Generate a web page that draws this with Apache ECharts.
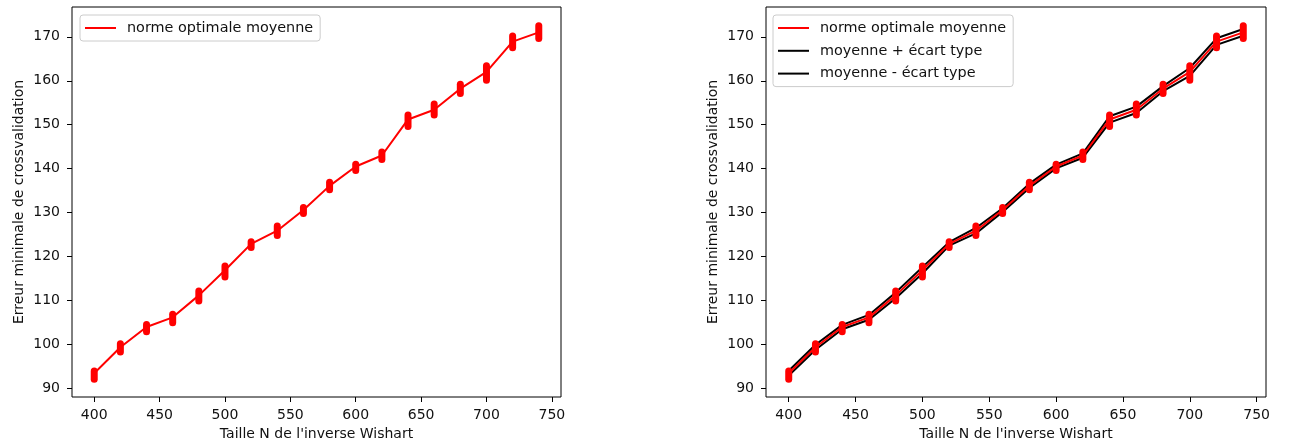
<!DOCTYPE html>
<html>
<head>
<meta charset="utf-8">
<script src="https://cdn.jsdelivr.net/npm/echarts@6/dist/echarts.min.js"></script>
<style>
    html, body { margin: 0; padding: 0; background: #fff; }
    #chart { width: 1308px; height: 446px; }
</style>
</head>
<body>
<div id="chart"></div>
<script>
    // tailles N testées
    const tailles = [400, 420, 440, 460, 480, 500, 520, 540, 560, 580, 600, 620, 640, 660, 680, 700, 720, 740];
    // norme optimale moyenne
    const moyenne = [93.5, 99.4, 104.0, 106.2, 111.2, 116.9, 122.9, 125.9, 130.6, 136.1, 140.5, 143.0, 151.2, 153.4, 158.2, 162.0, 168.9, 171.0];
    // écart type
    const ecartType = [0.55, 0.57, 0.50, 0.55, 0.67, 0.72, 0.40, 0.62, 0.42, 0.50, 0.42, 0.50, 0.72, 0.72, 0.58, 0.90, 0.75, 0.78];
    // étendue des essais (nuage de points)
    const essaisMin = [92.1, 98.3, 102.9, 105.0, 109.9, 115.4, 122.1, 124.8, 129.8, 135.2, 139.6, 142.1, 149.6, 152.2, 157.1, 160.1, 167.5, 169.6];
    const essaisMax = [94.0, 100.2, 104.6, 106.9, 112.2, 117.9, 123.4, 127.0, 131.2, 136.9, 141.0, 143.8, 152.2, 154.7, 159.2, 163.4, 170.2, 172.5];
    const ticksX = [400, 450, 500, 550, 600, 650, 700, 750];
    const ticksY = [90, 100, 110, 120, 130, 140, 150, 160, 170];

    const police = 'DejaVu Sans';
    const rouge = '#ff0000';

    let moyenneData = tailles.map((t, i) => [t, moyenne[i]]);
    let hautData = tailles.map((t, i) => [t, +(moyenne[i] + ecartType[i]).toFixed(2)]);
    let basData = tailles.map((t, i) => [t, +(moyenne[i] - ecartType[i]).toFixed(2)]);
    let nuageData = tailles.map((t, i) => [t, essaisMin[i], essaisMax[i]]);

    let xAxe = (idx) => ({
        type: 'value',
        gridIndex: idx,
        min: 383,
        max: 757,
        name: "Taille N de l'inverse Wishart",
        nameLocation: 'middle',
        nameGap: 30,
        nameTextStyle: { fontFamily: police, fontSize: 14, color: '#111' },
        axisLine: { show: false },
        axisTick: { show: true, length: 5, customValues: ticksX, lineStyle: { color: '#000', width: 1 } },
        axisLabel: { customValues: ticksX, margin: 11, fontFamily: police, fontSize: 14, color: '#111' },
        splitLine: { show: false }
    });
    let yAxe = (idx) => ({
        type: 'value',
        gridIndex: idx,
        min: 88.09,
        max: 176.77,
        name: 'Erreur minimale de crossvalidation',
        nameLocation: 'middle',
        nameGap: 46,
        nameTextStyle: { fontFamily: police, fontSize: 14, color: '#111' },
        axisLine: { show: false },
        axisTick: { show: true, length: 5, customValues: ticksY, lineStyle: { color: '#000', width: 1 } },
        axisLabel: { customValues: ticksY, margin: 12, fontFamily: police, fontSize: 14, color: '#111' },
        splitLine: { show: false }
    });

    let nuage = (idx) => ({
        type: 'custom',
        xAxisIndex: idx,
        yAxisIndex: idx,
        z: 5,
        clip: false,
        silent: true,
        encode: { x: 0, y: [1, 2] },
        data: nuageData,
        renderItem: function (params, api) {
            let x = api.value(0);
            let bas = api.coord([x, api.value(1)]);
            let haut = api.coord([x, api.value(2)]);
            let r = 3.5;
            return {
                type: 'rect',
                shape: { x: haut[0] - r, y: haut[1] - r, width: 2 * r, height: bas[1] - haut[1] + 2 * r, r: r },
                style: { fill: rouge }
            };
        }
    });

    let ligne = (idx, name, data, color, z) => ({
        name: name,
        type: 'line',
        xAxisIndex: idx,
        yAxisIndex: idx,
        z: z,
        showSymbol: false,
        symbol: 'none',
        lineStyle: { color: color, width: 2 },
        itemStyle: { color: color },
        data: data
    });

    let legende = (left, data) => ({
        left: left,
        top: 15,
        orient: 'vertical',
        data: data,
        icon: 'rect',
        itemWidth: 31,
        itemHeight: 2,
        itemGap: 6.8,
        padding: [5, 7, 5, 5],
        backgroundColor: 'rgba(255,255,255,0.8)',
        borderColor: '#cccccc',
        borderWidth: 1,
        borderRadius: 3,
        selectedMode: false,
        textStyle: { fontFamily: police, fontSize: 14.4, color: '#111', lineHeight: 16, padding: [0, 0, 0, 6] }
    });

    let chart = echarts.init(document.getElementById('chart'), null, { renderer: 'canvas' });
    chart.setOption({
        backgroundColor: '#fff',
        animation: false,
        grid: [
            { left: 72, top: 7, width: 489, height: 390, show: true, borderColor: '#000', borderWidth: 1, backgroundColor: 'transparent' },
            { left: 766, top: 7, width: 500, height: 390, show: true, borderColor: '#000', borderWidth: 1, backgroundColor: 'transparent' }
        ],
        xAxis: [xAxe(0), xAxe(1)],
        yAxis: [yAxe(0), yAxe(1)],
        legend: [
            legende(80, ['norme optimale moyenne']),
            legende(773, ['norme optimale moyenne', 'moyenne + écart type', 'moyenne - écart type'])
        ],
        series: [
            ligne(0, 'norme optimale moyenne', moyenneData, rouge, 3),
            nuage(0),
            ligne(1, 'norme optimale moyenne', moyenneData, rouge, 3),
            ligne(1, 'moyenne + écart type', hautData, '#000', 2),
            ligne(1, 'moyenne - écart type', basData, '#000', 2),
            nuage(1)
        ]
    });
</script>
</body>
</html>
